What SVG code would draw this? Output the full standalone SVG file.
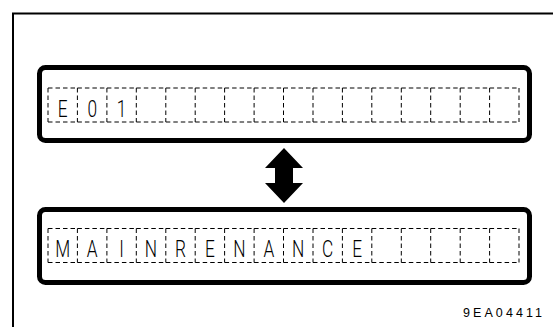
<svg xmlns="http://www.w3.org/2000/svg" width="553" height="327" viewBox="0 0 553 327">
<defs>
<style>
.frame{fill:none;stroke:#000;stroke-width:2}
.box{fill:#fff;stroke:#000;stroke-width:5}
.cell{fill:none;stroke:#000;stroke-width:1;stroke-dasharray:4.5 3}
.ch{font-family:Roboto,"Liberation Sans","DejaVu Sans",sans-serif;font-weight:300;font-size:24px;fill:#000;text-anchor:middle}
.code{font-family:"Liberation Sans","DejaVu Sans",sans-serif;font-size:12.5px;fill:#000}
</style>
<g id="row">
<path class="cell" d="M48.0,0H77.4M77.4,0H106.9M106.9,0H136.3M136.3,0H165.8M165.8,0H195.2M195.2,0H224.6M224.6,0H254.1M254.1,0H283.5M283.5,0H313.0M313.0,0H342.4M342.4,0H371.8M371.8,0H401.3M401.3,0H430.7M430.7,0H460.2M460.2,0H489.6M489.6,0H519"/>
<path class="cell" d="M48.0,34H77.4M77.4,34H106.9M106.9,34H136.3M136.3,34H165.8M165.8,34H195.2M195.2,34H224.6M224.6,34H254.1M254.1,34H283.5M283.5,34H313.0M313.0,34H342.4M342.4,34H371.8M371.8,34H401.3M401.3,34H430.7M430.7,34H460.2M460.2,34H489.6M489.6,34H519"/>
<path class="cell" d="M48.0,0V34M77.4,0V34M106.9,0V34M136.3,0V34M165.8,0V34M195.2,0V34M224.6,0V34M254.1,0V34M283.5,0V34M313.0,0V34M342.4,0V34M371.8,0V34M401.3,0V34M430.7,0V34M460.2,0V34M489.6,0V34M519,0V34"/>
</g>
</defs>
<path class="frame" d="M13,327V13.5H553"/>
<g id="display-top">
<rect class="box" x="39.5" y="67.5" width="490" height="73" rx="6"/>
<use href="#row" x="0" y="88"/>
<text class="ch" transform="translate(62.7,117) scale(0.72,1)">E</text>
<text class="ch" transform="translate(92.2,117) scale(0.72,1)">0</text>
<text class="ch" transform="translate(121.6,117) scale(0.72,1)">1</text>
</g>
<g id="display-bottom">
<rect class="box" x="39.5" y="209.5" width="490" height="73" rx="6"/>
<use href="#row" x="0" y="228.5"/>
<text class="ch" transform="translate(62.7,257) scale(0.72,1)">M</text>
<text class="ch" transform="translate(92.2,257) scale(0.72,1)">A</text>
<text class="ch" transform="translate(121.6,257) scale(0.72,1)">I</text>
<text class="ch" transform="translate(151.0,257) scale(0.72,1)">N</text>
<text class="ch" transform="translate(180.5,257) scale(0.72,1)">R</text>
<text class="ch" transform="translate(209.9,257) scale(0.72,1)">E</text>
<text class="ch" transform="translate(239.4,257) scale(0.72,1)">N</text>
<text class="ch" transform="translate(268.8,257) scale(0.72,1)">A</text>
<text class="ch" transform="translate(298.2,257) scale(0.72,1)">N</text>
<text class="ch" transform="translate(327.7,257) scale(0.72,1)">C</text>
<text class="ch" transform="translate(357.1,257) scale(0.72,1)">E</text>
</g>
<g id="connectors">
<polygon fill="#000" points="284,148 303,168 293,168 293,183 303,183 284,203 265,183 275,183 275,168 265,168"/>
</g>
<text class="code" x="463" y="317" textLength="79" lengthAdjust="spacing">9EA04411</text>
</svg>
